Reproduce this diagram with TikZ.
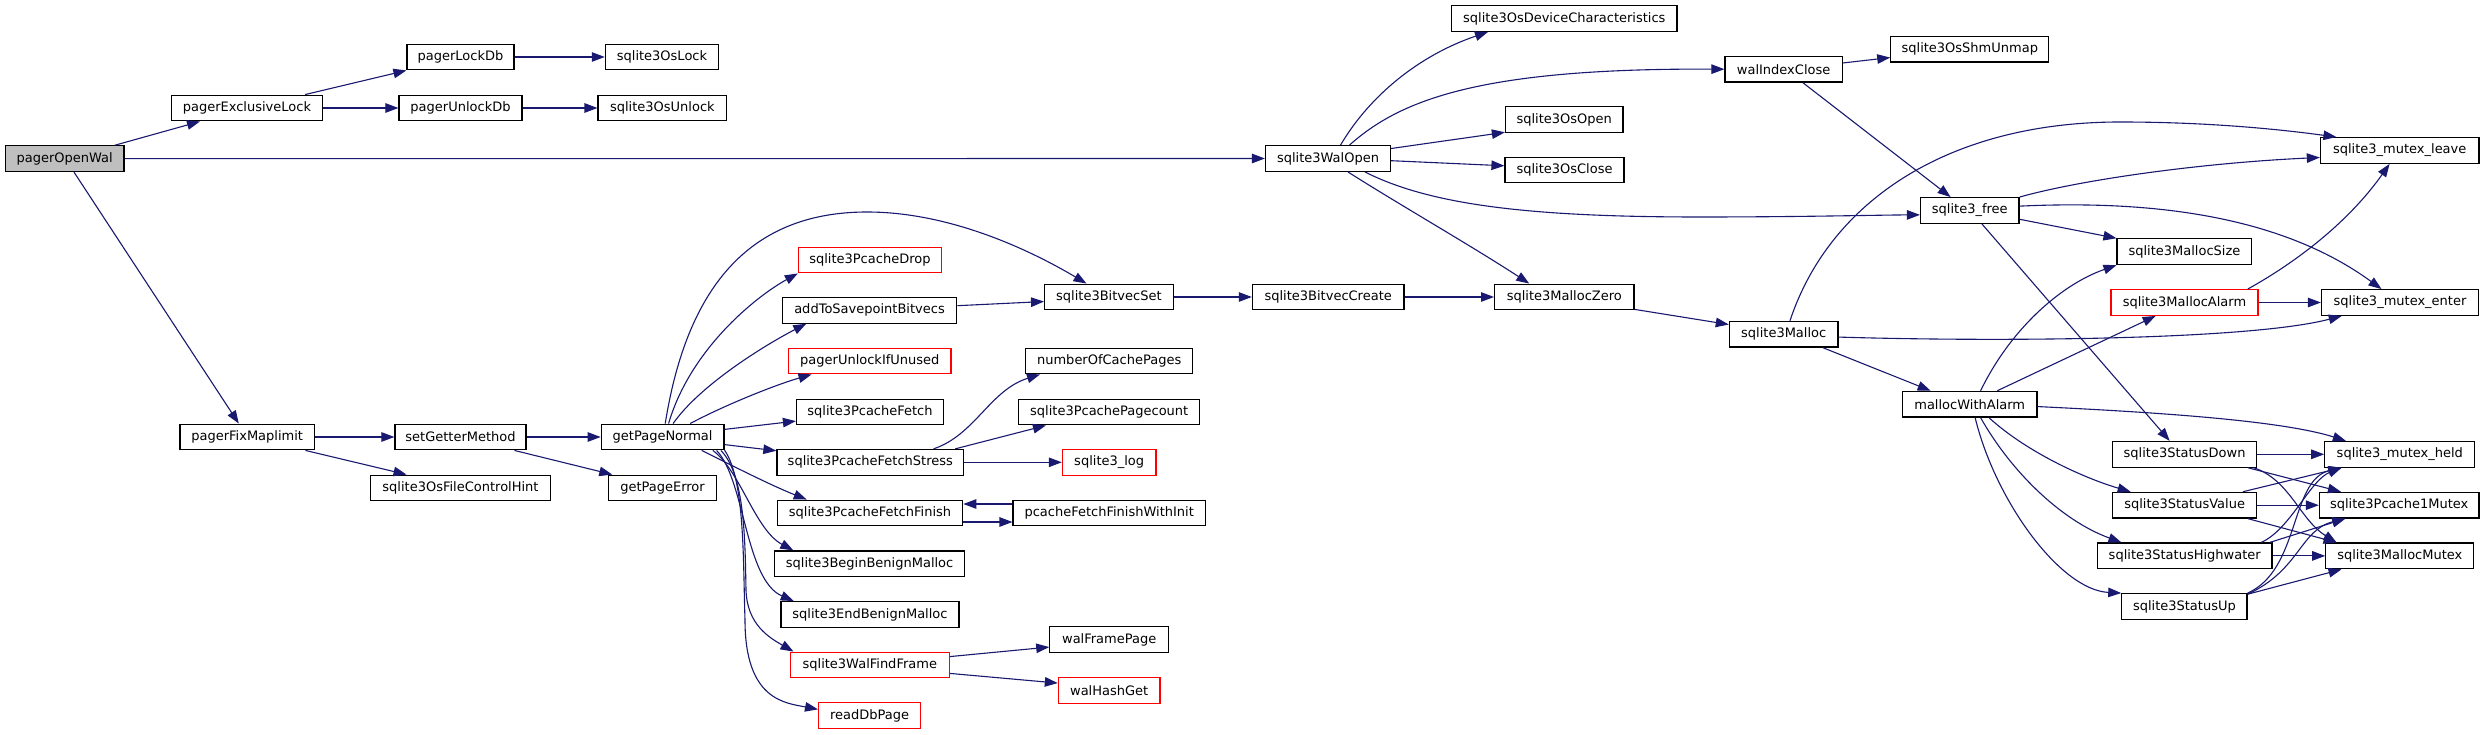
\documentclass[tikz,border=0pt]{standalone}
\usepackage{fontspec}
\setmainfont{DejaVu Sans}
\usetikzlibrary{arrows.meta}
\definecolor{edgeblue}{HTML}{191970}
\definecolor{nodegray}{HTML}{BFBFBF}
\begin{document}
\begin{tikzpicture}[x=1pt,y=-1pt,
 box/.style={draw=black, line width=1.2pt, fill=white, rectangle, inner sep=0pt,
   minimum height=25.7pt, font=\fontsize{13pt}{15pt}\selectfont, text=black},
 redbox/.style={box, draw=red},
 graybox/.style={box, fill=nodegray},
 edge/.style={draw=edgeblue, line width=1.1pt, -{Triangle[length=13pt,width=9.5pt]}}]
\fill[white] (0,0) rectangle (2485,735);
\useasboundingbox (0,0) rectangle (2485,735);

% nodes
\node[graybox, minimum width=118.6pt] (pow) at (64.6,158.7) {pagerOpenWal};
\node[box, minimum width=150.8pt] (pel) at (246.9,108) {pagerExclusiveLock};
\node[box, minimum width=107pt] (pld) at (460.5,57) {pagerLockDb};
\node[box, minimum width=123pt] (pud) at (460.5,108) {pagerUnlockDb};
\node[box, minimum width=113.3pt] (osl) at (662,57) {sqlite3OsLock};
\node[box, minimum width=128.7pt] (osu) at (662.4,108) {sqlite3OsUnlock};
\node[box, minimum width=134.4pt] (pfm) at (247.2,437) {pagerFixMaplimit};
\node[box, minimum width=131pt] (sgm) at (460.5,437) {setGetterMethod};
\node[box, minimum width=122.7pt] (gpn) at (662.6,437) {getPageNormal};
\node[box, minimum width=180pt] (fch) at (460.5,488) {sqlite3OsFileControlHint};
\node[box, minimum width=107.5pt] (gpe) at (662.5,488) {getPageError};
\node[box, minimum width=125pt] (wo) at (1328,158.5) {sqlite3WalOpen};
\node[box, minimum width=225.4pt] (odc) at (1564.3,18.5) {sqlite3OsDeviceCharacteristics};
\node[box, minimum width=117.5pt] (oop) at (1564.2,119.7) {sqlite3OsOpen};
\node[box, minimum width=119pt] (ocl) at (1564.5,170) {sqlite3OsClose};
\node[box, minimum width=139.4pt] (mz) at (1564.3,297) {sqlite3MallocZero};
\node[box, minimum width=128.6pt] (bvs) at (1108.9,297) {sqlite3BitvecSet};
\node[box, minimum width=151.6pt] (bvc) at (1328.2,297) {sqlite3BitvecCreate};
\node[redbox, minimum width=143pt] (pcd) at (869.9,260) {sqlite3PcacheDrop};
\node[box, minimum width=174.5pt] (asb) at (869.5,310.3) {addToSavepointBitvecs};
\node[redbox, minimum width=162.4pt] (pui) at (869.8,361) {pagerUnlockIfUnused};
\node[box, minimum width=147pt] (pcf) at (870,412) {sqlite3PcacheFetch};
\node[box, minimum width=186.7pt] (pfs) at (870.3,462.3) {sqlite3PcacheFetchStress};
\node[box, minimum width=185.5pt] (pff) at (870,513) {sqlite3PcacheFetchFinish};
\node[box, minimum width=190.5pt] (bbm) at (869.6,563.8) {sqlite3BeginBenignMalloc};
\node[box, minimum width=178pt] (ebm) at (870,614.5) {sqlite3EndBenignMalloc};
\node[redbox, minimum width=159pt] (wff) at (869.8,665) {sqlite3WalFindFrame};
\node[redbox, minimum width=102pt] (rdp) at (869.6,715.7) {readDbPage};
\node[box, minimum width=167pt] (ncp) at (1109.2,361) {numberOfCachePages};
\node[box, minimum width=180.8pt] (ppc) at (1109.2,412) {sqlite3PcachePagecount};
\node[redbox, minimum width=93.6pt] (log) at (1109.2,462.3) {sqlite3\_log};
\node[box, minimum width=192.3pt] (pfi) at (1109.2,513) {pcacheFetchFinishWithInit};
\node[box, minimum width=118.8pt] (wfp) at (1109.2,639.7) {walFramePage};
\node[redbox, minimum width=101.6pt] (whg) at (1109.2,690.3) {walHashGet};
\node[box, minimum width=117.2pt] (wic) at (1783.6,69.2) {walIndexClose};
\node[box, minimum width=158pt] (shm) at (1969.8,49.2) {sqlite3OsShmUnmap};
\node[box, minimum width=98.5pt] (fre) at (1969.8,210.5) {sqlite3\_free};
\node[box, minimum width=108.7pt] (mal) at (1783.7,334.2) {sqlite3Malloc};
\node[box, minimum width=134.6pt] (mwa) at (1969.7,404.2) {mallocWithAlarm};
\node[box, minimum width=134.7pt] (msz) at (2184.4,251.7) {sqlite3MallocSize};
\node[redbox, minimum width=147pt] (mal2) at (2184.5,302.5) {sqlite3MallocAlarm};
\node[box, minimum width=143.8pt] (sd) at (2184.6,454.3) {sqlite3StatusDown};
\node[box, minimum width=143.8pt] (sv) at (2184.6,505.2) {sqlite3StatusValue};
\node[box, minimum width=174.7pt] (sh) at (2184.7,555.9) {sqlite3StatusHighwater};
\node[box, minimum width=125.2pt] (su) at (2184.4,606.5) {sqlite3StatusUp};
\node[box, minimum width=158.6pt] (mle) at (2399.7,150.5) {sqlite3\_mutex\_leave};
\node[box, minimum width=157pt] (men) at (2400,302.5) {sqlite3\_mutex\_enter};
\node[box, minimum width=150pt] (mhe) at (2399.8,454.3) {sqlite3\_mutex\_held};
\node[box, minimum width=159.6pt] (p1m) at (2399.2,505.2) {sqlite3Pcache1Mutex};
\node[box, minimum width=148pt] (mmx) at (2399.8,555.9) {sqlite3MallocMutex};

% edges
\draw[edge] (pow.15.5) -- (pel.-164.5);
\draw[edge] (pow.east) -- (wo.west);
\draw[edge] (pow.-55.3) -- (pfm.122.9);
\draw[edge] (pel.13.3) -- (pld.south west);
\draw[edge] (pel.east) -- (pud.west);
\draw[edge] (pld.east) -- (osl.west);
\draw[edge] (pud.east) -- (osu.west);
\draw[edge] (pfm.east) -- (sgm.west);
\draw[edge] (pfm.-13.4) -- (fch.166.2);
\draw[edge] (sgm.east) -- (gpn.west);
\draw[edge] (sgm.-14.2) -- (gpe.165.8);
\draw[edge] (gpn.79.5) .. controls (685,300) and (740,212) .. (867,212) .. controls (950,212) and (1030,250) .. (bvs.149.3);
\draw[edge] (gpn.66.3) .. controls (690,350) and (755,297) .. (pcd.south west);
\draw[edge] (gpn.52.2) .. controls (700,385) and (765,345) .. (asb.-168.6);
\draw[edge] (gpn.26.3) .. controls (725,405) and (775,385) .. (pui.-167);
\draw[edge] (gpn.7.1) -- (pcf.-173.2);
\draw[edge] (gpn.-7.4) -- (pfs.173.5);
\draw[edge] (gpn.-19.8) .. controls (725,462) and (770,485) .. (pff.168.4);
\draw[edge] (gpn.-15.6) .. controls (740,470) and (755,530) .. (bbm.170.6);
\draw[edge] (gpn.-14.5) .. controls (745,480) and (745,580) .. (ebm.170.9);
\draw[edge] (gpn.-13.7) .. controls (745,475) and (745,540) .. (746,590) .. controls (747,625) and (770,638) .. (wff.170.5);
\draw[edge] (gpn.-12.7) .. controls (745,480) and (743,560) .. (745,620) .. controls (745,700) and (785,703) .. (rdp.173.4);
\draw[edge] (asb.3.5) -- (bvs.-176.4);
\draw[edge] (bvs.east) -- (bvc.west);
\draw[edge] (bvc.east) -- (mz.west);
\draw[edge] (wo.-34) .. controls (1400,205) and (1470,245) .. (mz.159.8);
\draw[edge] (wo.47.6) .. controls (1370,95) and (1420,55) .. (odc.-170);
\draw[edge] (wo.32.6) .. controls (1400,100) and (1480,68) .. (wic.west);
\draw[edge] (wo.9.1) -- (oop.-168.3);
\draw[edge] (wo.-2.9) -- (ocl.176.8);
\draw[edge] (wo.-20.3) .. controls (1430,205) and (1530,217) .. (1700,217) .. controls (1800,217) and (1880,215) .. (fre.-175.6);
\draw[edge] (mz.-10) -- (mal.170.3);
\draw[edge] (wic.6.7) -- (shm.-174.2);
\draw[edge] (wic.-35.1) -- (fre.145.9);
\draw[edge] (fre.north east) .. controls (2080,180) and (2200,163) .. (mle.-175.5);
\draw[edge] (fre.5.6) .. controls (2150,200) and (2280,215) .. (men.144.3);
\draw[edge] (fre.-10.9) -- (msz.north west);
\draw[edge] (fre.-48.3) -- (sd.138.9);
\draw[edge] (mal.65.8) .. controls (1830,200) and (1950,122) .. (2120,122) .. controls (2200,122) and (2270,128) .. (mle.168);
\draw[edge] (mal.-3.3) .. controls (2000,342) and (2250,340) .. (men.-167.6);
\draw[edge] (mal.-19.8) -- (mwa.161);
\draw[edge] (mal2.12.2) .. controls (2300,260) and (2350,220) .. (mle.-127.2);
\draw[edge] (mal2.east) -- (men.west);
\draw[edge] (mwa.51.4) .. controls (2010,330) and (2060,285) .. (msz.south west);
\draw[edge] (mwa.26.1) -- (mal2.-155.9);
\draw[edge] (mwa.-2.6) .. controls (2150,412) and (2280,420) .. (mhe.166.8);
\draw[edge] (mwa.-35) .. controls (2030,455) and (2090,480) .. (sv.166.2);
\draw[edge] (mwa.-51.2) .. controls (2010,470) and (2060,520) .. (sh.168);
\draw[edge] (mwa.-68.3) .. controls (1995,500) and (2060,590) .. (su.168.5);
\draw[edge] (sd.east) -- (mhe.west);
\draw[edge] (sd.-12.9) -- (p1m.167.4);
\draw[edge] (sd.-11.6) .. controls (2290,480) and (2300,520) .. (mmx.168.7);
\draw[edge] (sv.13.7) -- (mhe.-167.3);
\draw[edge] (sv.east) -- (p1m.west);
\draw[edge] (sv.-12.3) -- (mmx.168.7);
\draw[edge] (sh.10.9) .. controls (2290,530) and (2310,480) .. (mhe.-167.3);
\draw[edge] (sh.9.5) -- (p1m.-166.8);
\draw[edge] (sh.east) -- (mmx.west);
\draw[edge] (su.12) .. controls (2300,570) and (2290,480) .. (mhe.-167.3);
\draw[edge] (su.11.4) .. controls (2300,570) and (2300,530) .. (p1m.-166.8);
\draw[edge] (su.11) -- (mmx.-167.6);
\draw[edge] (pfs.12.2) .. controls (975,435) and (990,390) .. (ncp.-169.2);
\draw[edge] (pfs.9) -- (ppc.-168.2);
\draw[edge] (pfs.east) -- (log.west);
\draw[edge] ([yshift=-9pt]pff.east) -- ([yshift=-9pt]pfi.west);
\draw[edge] ([yshift=9pt]pfi.west) -- ([yshift=9pt]pff.east);
\draw[edge] (wff.6.5) -- (wfp.-173.3);
\draw[edge] (wff.-6) -- (whg.172.9);
\end{tikzpicture}
\end{document}
